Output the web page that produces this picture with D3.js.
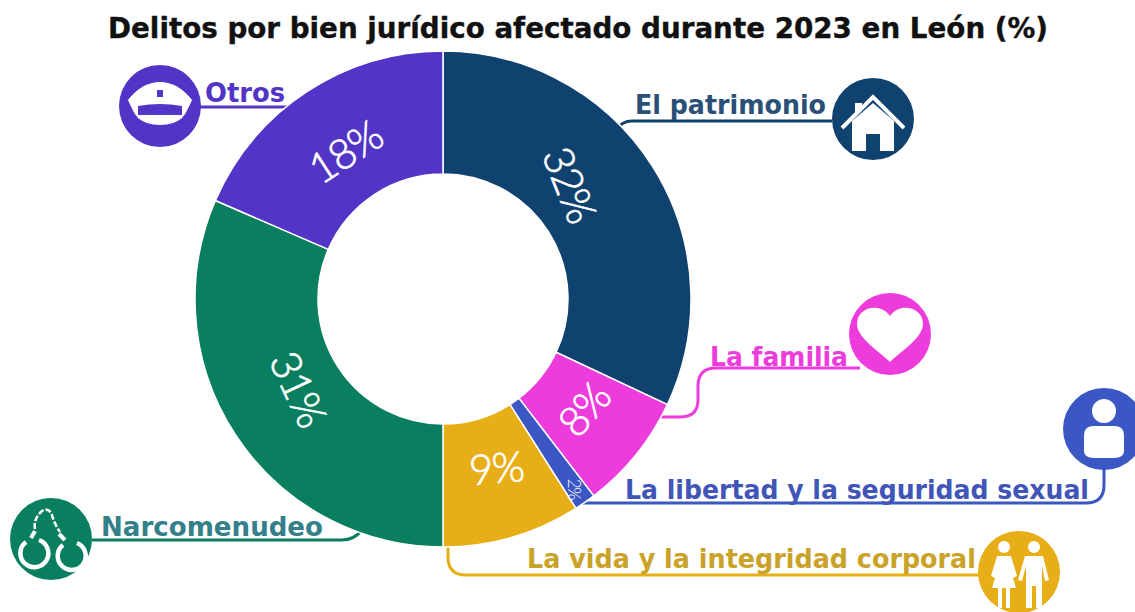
<!DOCTYPE html>
<html><head><meta charset="utf-8">
<script src="https://cdn.jsdelivr.net/npm/d3@7"></script>
<style>html,body{margin:0;background:#fff}svg{display:block}</style></head>
<body><svg id="c" width="1135" height="612"></svg>
<script>
const categories=["El patrimonio","La familia","La libertad y la seguridad sexual","La vida y la integridad corporal","Narcomenudeo","Otros"];
const values=[32,7.6,1.4,9,31.5,18.5];
const labels=["32%","8%","2%","9%","31%","18%"];
const colors=["#10426f","#ee3bdc","#3a57c4","#e8ae17","#0a7f60","#5235c6"];
const textColors=["#2a5078","#ee3bdc","#3f55b8","#c9a227","#33808a","#5235c6"];
const svg=d3.select("#c");
const font="'DejaVu Sans', sans-serif";
svg.append("text").attr("x",108).attr("y",38).attr("font-family",font).attr("textLength",940).attr("lengthAdjust","spacingAndGlyphs")
 .attr("font-weight",700).attr("font-size",29).attr("stroke","#111").attr("stroke-width",0.4).attr("fill","#111").text("Delitos por bien jurídico afectado durante 2023 en León (%)");
const cx=443,cy=299,R=248,r=125;
const pie=d3.pie().sort(null).value(d=>d)(values);
const arc=d3.arc().innerRadius(r).outerRadius(R);
const leaders=[
 "M832,121H632Q622,121 616,130",
 "M860,368H716Q698,368 698,386V400Q698,417 680,417H660",
 "M1104,465V485Q1104,503 1086,503H582",
 "M448,540V557Q448,575 466,575H990",
 "M92,540H342Q354,540 362,530",
 "M200,107H290"];
svg.append("g").selectAll("path").data(leaders).join("path").attr("d",d=>d).attr("fill","none")
 .attr("stroke",(d,i)=>colors[i]).attr("stroke-width",3);
const g=svg.append("g").attr("transform",`translate(${cx},${cy})`);
g.selectAll("path").data(pie).join("path").attr("d",arc).attr("fill",(d,i)=>colors[i]).attr("stroke","#fff").attr("stroke-width",1.5);
const sizes=[42,42,17,42,42,42];
const nudge=[[-30,-15,68],[-5,-7,-50],[25,37,90],[1,-11,-5],[12,-13,65],[4,8,-33]];
g.selectAll("text").data(pie).join("text").attr("transform",(d,i)=>{
  const [x,y]=arc.centroid(d),n=nudge[i];
  return `translate(${x+n[0]},${y+n[1]}) rotate(${n[2]})`;})
 .attr("text-anchor","middle").attr("dominant-baseline","central").attr("font-family","Lato, sans-serif").attr("font-weight",300)
 .attr("letter-spacing",-1.5).attr("stroke","#fff").attr("stroke-width",(d,i)=>i===2?0:0.7)
 .attr("font-size",(d,i)=>sizes[i]).attr("fill","#fff").text((d,i)=>labels[i]);
const lab=[[635,191,114,0],[710,138,366,1],[625,464,499,2],[527,449,568,3],[101,222,536,4],[205,80,102,5]];
svg.append("g").selectAll("text").data(lab).join("text").attr("x",d=>d[0]).attr("y",d=>d[2])
 .attr("textLength",d=>d[1]).attr("lengthAdjust","spacingAndGlyphs")
 .attr("font-family",font).attr("font-weight",700).attr("font-size",26).attr("fill",d=>textColors[d[3]]).text(d=>categories[d[3]]);
const icons=[[873,119,0],[890,334,1],[1104,429,2],[1019,572,3],[51,539,4],[160,106,5]];
const ig=svg.append("g").selectAll("g").data(icons).join("g").attr("transform",d=>`translate(${d[0]},${d[1]})`);
ig.append("circle").attr("r",41).attr("fill",d=>colors[d[2]]);
const W="#fff";
const at=i=>ig.filter(d=>d[2]===i);
at(0).append("path").attr("fill",W).attr("d","M-21,2L0,-16L21,2V32H7V15H-7V32H-21Z");
at(0).append("path").attr("fill",W).attr("d","M-18,-16H-11V-10L-18,-4Z");
at(0).append("path").attr("fill","none").attr("stroke",W).attr("stroke-width",4).attr("d","M-31,9L0,-22L31,9");
at(1).append("path").attr("fill",W).attr("d","M0,28C-10,18 -33,4 -33,-10C-33,-27 -10,-32 0,-18C10,-32 33,-27 33,-10C33,4 10,18 0,28Z");
at(2).append("circle").attr("cy",-18).attr("r",12).attr("fill",W);
at(2).append("path").attr("fill",W).attr("d","M-20,22V6Q-20,-3 -10,-3H10Q20,-3 20,6V22Q20,29 10,29H-10Q-20,29 -20,22Z");
at(3).append("g").attr("fill",W).call(s=>{
 s.append("circle").attr("cx",-15).attr("cy",-25).attr("r",6);
 s.append("circle").attr("cx",15).attr("cy",-25).attr("r",6);
 s.append("path").attr("d","M-22,-16H-8L-2,4L-6,6L-9,-4L-3,16H-9V36H-13V16H-17V36H-21V16H-27L-21,-4L-24,6L-28,4Z");
 s.append("path").attr("d","M6,-16H24L30,8L26,9L23,-6V36H17V14H13V36H7V-6L3,9L-1,8Z");
});
at(4).append("g").attr("fill","none").attr("stroke",W).call(s=>{
 s.append("path").attr("stroke-width",4.5).attr("d","M-25,3A14,14 0 1 0 -12,1");
 s.append("path").attr("stroke-width",4.5).attr("d","M12,6A14,14 0 1 0 26,4");
 s.append("path").attr("stroke-width",4).attr("d","M-20,-1L-16,-8M8,-5L14,1");
 s.append("path").attr("stroke-width",2.5).attr("stroke-dasharray","6 2").attr("d","M-16,-10Q-18,-20 -9,-28Q-2,-32 1,-24Q3,-16 9,-7");
});
at(5).append("path").attr("fill",W).attr("d","M-32,-6Q-18,-24 0,-24Q18,-24 32,-6Q26,8 22,12Q14,19 0,19Q-14,19 -22,12Q-26,8 -32,-6Z");
at(5).append("path").attr("fill",colors[5]).attr("d","M-22,0Q0,-4 22,0V9H-22Z");
at(5).append("rect").attr("x",-3).attr("y",-16).attr("width",6).attr("height",7).attr("fill",colors[5]);
</script></body></html>
